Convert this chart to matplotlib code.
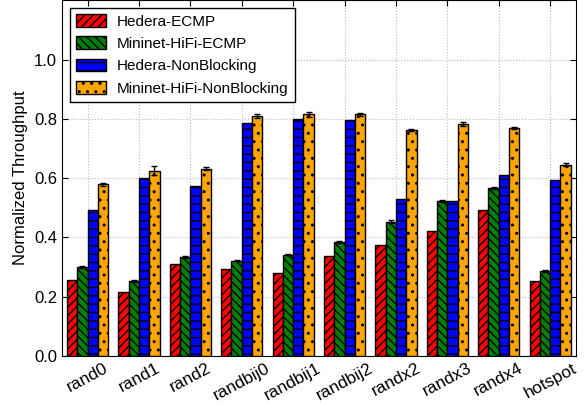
import matplotlib
matplotlib.use("Agg")
import matplotlib.pyplot as plt
import numpy as np

plt.rcParams['font.family'] = ['Liberation Sans', 'DejaVu Sans']
plt.rcParams['hatch.linewidth'] = 1.0

tests = ["rand0", "rand1", "rand2", "randbij0", "randbij1", "randbij2",
         "randx2", "randx3", "randx4", "hotspot"]

hedera_ecmp = [0.255, 0.216, 0.311, 0.294, 0.280, 0.338, 0.375, 0.423, 0.494, 0.254]
mininet_ecmp = [0.300, 0.252, 0.333, 0.322, 0.342, 0.385, 0.453, 0.524, 0.566, 0.286]
mininet_ecmp_err = [0.004, 0.003, 0.004, 0.003, 0.003, 0.003, 0.005, 0.003, 0.004, 0.003]
hedera_nonblocking = [0.494, 0.600, 0.575, 0.785, 0.800, 0.795, 0.528, 0.524, 0.612, 0.593]
mininet_nonblocking = [0.580, 0.625, 0.632, 0.810, 0.815, 0.815, 0.762, 0.782, 0.770, 0.645]
mininet_nonblocking_err = [0.005, 0.015, 0.004, 0.008, 0.007, 0.006, 0.004, 0.006, 0.004, 0.005]

series = [
    ("Hedera-ECMP", hedera_ecmp, None, "red", "////"),
    ("Mininet-HiFi-ECMP", mininet_ecmp, mininet_ecmp_err, "green", "\\\\\\\\"),
    ("Hedera-NonBlocking", hedera_nonblocking, None, "blue", "--"),
    ("Mininet-HiFi-NonBlocking", mininet_nonblocking, mininet_nonblocking_err, "orange", ".."),
]

fig = plt.figure(figsize=(5.84, 4.04), dpi=100)
ax = fig.add_axes([0.106, 0.119, 0.880, 0.880])

x = np.arange(len(tests))
width = 0.2
for i, (label, vals, err, color, hatch) in enumerate(series):
    pos = x + (i - 1.5) * width
    ax.bar(pos, vals, width, color=color, edgecolor="black", linewidth=1.0,
           hatch=hatch, label=label, zorder=3)
    if err is not None:
        ax.errorbar(pos, vals, yerr=err, fmt="none", ecolor="black",
                    elinewidth=1.0, capsize=2.5, capthick=1.0, zorder=4)

ax.set_xlim(-0.5, len(tests) - 0.5)
ax.set_ylim(0, 1.2)
ax.set_yticks([0.0, 0.2, 0.4, 0.6, 0.8, 1.0])
ax.set_yticklabels(["0.0", "0.2", "0.4", "0.6", "0.8", "1.0"], fontsize=12)
ax.set_xticks(x)
ax.set_xticklabels(tests, rotation=28, ha="center", fontsize=12.5)
ax.set_ylabel("Normalized Throughput", fontsize=12)
ax.tick_params(direction="in", top=True, right=True, length=4)
ax.grid(True, linestyle=":", color="#bbbbbb", linewidth=0.8, zorder=0)

leg = ax.legend(loc="upper left", fontsize=11, fancybox=False, framealpha=1,
                edgecolor="black", handlelength=2.0, handleheight=0.9,
                handletextpad=0.7, borderaxespad=0.5, labelspacing=0.5,
                borderpad=0.4)
leg.get_frame().set_linewidth(1.0)

fig.savefig("out.png", dpi=100)
